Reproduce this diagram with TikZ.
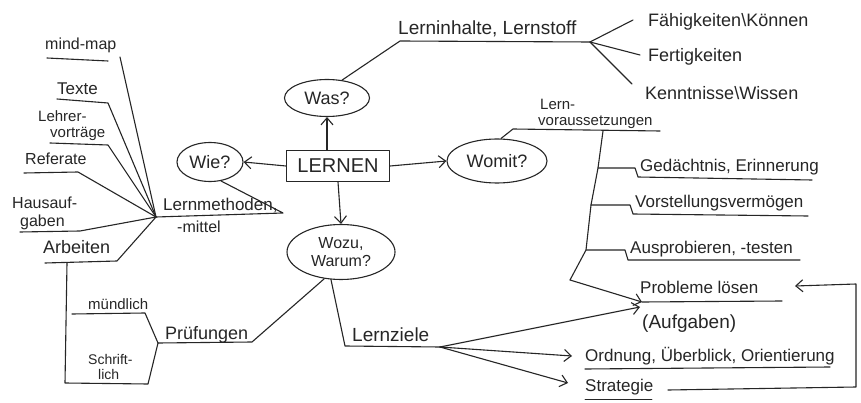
\documentclass[tikz,border=0pt]{standalone}
\usepackage{fontspec}
\setmainfont{Liberation Sans}
\usetikzlibrary{shapes.geometric,arrows.meta}
\begin{document}
\begin{tikzpicture}[x=1pt,y=-1pt,
  ink/.style={draw=black!85, line width=1.1pt, line cap=round, line join=round},
  lbl/.style={anchor=base west, inner sep=0pt, text=black!85, font=\fontsize{17}{17}\selectfont},
  bubble/.style={ink, ellipse, inner sep=0pt, text=black!85, font=\fontsize{18}{18}\selectfont},
  barb/.style={ink, -{Straight Barb[length=7pt,width=12pt]}},
  fs/.style={font=\fontsize{#1}{#1}\selectfont},
]
\useasboundingbox (0,0) rectangle (861,403);
\fill[white] (0,0) rectangle (861,403);

% ---- centre and the four questions ----
\node[ink, rectangle, minimum width=103pt, minimum height=31pt, inner sep=0pt,
      text=black!85, fs=20] (lernen) at (338,166) {LERNEN};
\node[bubble, minimum width=66pt, minimum height=39pt] (wie) at (210,162) {Wie?};
\node[bubble, minimum width=85pt, minimum height=37pt] (was) at (327,98) {Was?};
\node[bubble, minimum width=100pt, minimum height=44pt] (womit) at (497,161) {Womit?};
\node[bubble, minimum width=108pt, minimum height=55pt, align=center, fs=16]
      (wozu) at (341,252) {Wozu,\\[2pt]Warum?};

\draw[barb] (lernen.west) -- (wie.east);
\draw[barb] (lernen.north -| was.south) -- (was.south);
\draw[barb] (lernen.east) -- (womit.west);
\draw[barb] (lernen.south) -- (wozu.north);

% ---- Was? : learning content ----
\coordinate (linL) at (400,41);
\coordinate (linR) at (590,42);
\node[lbl, fs=19] (lin) at (398,35) {Lerninhalte, Lernstoff};
\draw[ink] (was.50) -- (linL) -- (linR);
\coordinate (fkE) at (633,20);
\coordinate (ftE) at (640,55);
\coordinate (kwE) at (632,84);
\draw[ink] (linR) -- (fkE);
\draw[ink] (linR) -- (ftE);
\draw[ink] (linR) -- (kwE);
\node[lbl, fs=18] (fk) at (648,27) {Fähigkeiten\textbackslash Können};
\node[lbl, fs=18] (ft) at (648,62) {Fertigkeiten};
\node[lbl, fs=18] (kw) at (645,100) {Kenntnisse\textbackslash Wissen};

% ---- Womit? : prerequisites ----
\coordinate (lvL) at (513,129);
\coordinate (lvR) at (660,131);
\node[lbl, fs=15] (lv1) at (540,110) {Lern-};
\node[lbl, fs=15] (lv2) at (538,126) {voraussetzungen};
\draw[ink] (womit.80) -- (lvL) -- (lvR);

\coordinate (t0) at (603,131);
\coordinate (t1) at (598,168);
\coordinate (t2) at (591,205);
\coordinate (t3) at (586,250);
\coordinate (t4) at (570,280);
\coordinate (pj) at (642,302);
\coordinate (pj2) at (640,307);
\draw[ink] (t0) -- (t1) -- (t2) -- (t3) -- (t4);
\draw[barb] (t4) -- (pj);

\coordinate (g1) at (635,168);
\coordinate (gL) at (638,177);
\coordinate (gR) at (812,180);
\draw[ink] (t1) -- (g1) -- (gL) -- (gR);
\node[lbl] (ged) at (640,172) {Gedächtnis, Erinnerung};

\coordinate (v1) at (630,205);
\coordinate (vL) at (633,214);
\coordinate (vR) at (808,216);
\draw[ink] (t2) -- (v1) -- (vL) -- (vR);
\node[lbl] (vor) at (635,208) {Vorstellungsvermögen};

\coordinate (a1) at (625,250);
\coordinate (aL) at (628,260);
\coordinate (aR) at (800,260);
\draw[ink] (t3) -- (a1) -- (aL) -- (aR);
\node[lbl] (aus) at (630,254) {Ausprobieren, -testen};

\coordinate (pR) at (782,301);
\draw[ink] (pj) -- (pR);
\node[lbl] (pro) at (640,293) {Probleme lösen};
\node[lbl, fs=19] (auf) at (642,328) {(Aufgaben)};

% ---- Wozu, Warum? : goals and exams ----
\coordinate (lzL) at (345,346);
\coordinate (lzR) at (440,347);
\node[lbl, fs=19] (lz) at (352,341) {Lernziele};
\draw[ink] (wozu.250) -- (lzL) -- (lzR);
\coordinate (oa) at (572,356);
\coordinate (sa) at (568,383);
\draw[barb] (lzR) -- (pj2);
\draw[barb] (lzR) -- (oa);
\draw[barb] (lzR) -- (sa);

\node[lbl] (ord) at (585,361) {Ordnung, Überblick, Orientierung};
\coordinate (oL) at (585,369);
\coordinate (oR) at (830,367);
\draw[ink] (oL) -- (oR);
\node[lbl] (str) at (585,391) {Strategie};
\coordinate (sL) at (585,399);
\coordinate (sR) at (652,399);
\draw[ink, line width=0.9pt] (sL) -- (sR);

\coordinate (s1) at (668,390);
\coordinate (s2) at (856,387);
\coordinate (s3) at (856,284);
\coordinate (pa) at (795,286);
\draw[barb] (s1) -- (s2) -- (s3) -- (pa);

\coordinate (prL) at (158,343);
\coordinate (prR) at (252,342);
\node[lbl, fs=18] (pr) at (165,339) {Prüfungen};
\draw[ink] (prL) -- (prR) -- (wozu.238);

% ---- Wie? : methods and media ----
\coordinate (L) at (156,217);
\coordinate (lmR) at (283,213);
\node[lbl] (lm1) at (163,211) {Lernmethoden,};
\node[lbl, fs=16] (lm2) at (177,233) {-mittel};
\draw[ink] (L) -- (lmR) -- (wie.300);

\node[lbl, fs=16] (mm) at (45,50) {mind-map};
\coordinate (mmL) at (47,58);
\coordinate (mmR) at (108,61);
\coordinate (mmE) at (120,57);
\draw[ink] (mmL) -- (mmR);
\draw[ink] (mmE) -- (L);

\node[lbl] (te) at (57,95) {Texte};
\coordinate (teL) at (57,99);
\coordinate (teR) at (108,103);
\draw[ink] (teL) -- (teR) -- (L);

\node[lbl, fs=15] (le1) at (38,122) {Lehrer-};
\node[lbl, fs=15] (le2) at (50,138) {vorträge};
\coordinate (leL) at (50,143);
\coordinate (leR) at (108,145);
\draw[ink] (leL) -- (leR) -- (L);

\node[lbl, fs=16] (re) at (25,165) {Referate};
\coordinate (reL) at (24,173);
\coordinate (reR) at (78,172);
\draw[ink] (reL) -- (reR) -- (L);

\node[lbl, fs=16] (ha1) at (12,209) {Hausauf-};
\node[lbl, fs=16] (ha2) at (20,226) {gaben};
\coordinate (haL) at (20,232);
\coordinate (haR) at (80,231);
\draw[ink] (haL) -- (haR) -- (L);

\node[lbl, fs=18] (ar) at (43,254) {Arbeiten};
\coordinate (arL) at (45,263);
\coordinate (arR) at (117,261);
\draw[ink] (arL) -- (arR) -- (L);

% ---- kinds of exams ----
\coordinate (ar0) at (67,263);
\coordinate (ar1) at (65,383);
\coordinate (ar2) at (148,384);
\coordinate (mu0) at (72,314);
\coordinate (mu1) at (145,313);
\draw[ink] (ar0) -- (ar1) -- (ar2) -- (prL);
\draw[ink] (mu0) -- (mu1) -- (prL);
\node[lbl, fs=15] (mu) at (88,309) {mündlich};
\node[lbl, fs=14] (sc1) at (88,364) {Schrift-};
\node[lbl, fs=14] (sc2) at (98,379) {lich};
\end{tikzpicture}
\end{document}
